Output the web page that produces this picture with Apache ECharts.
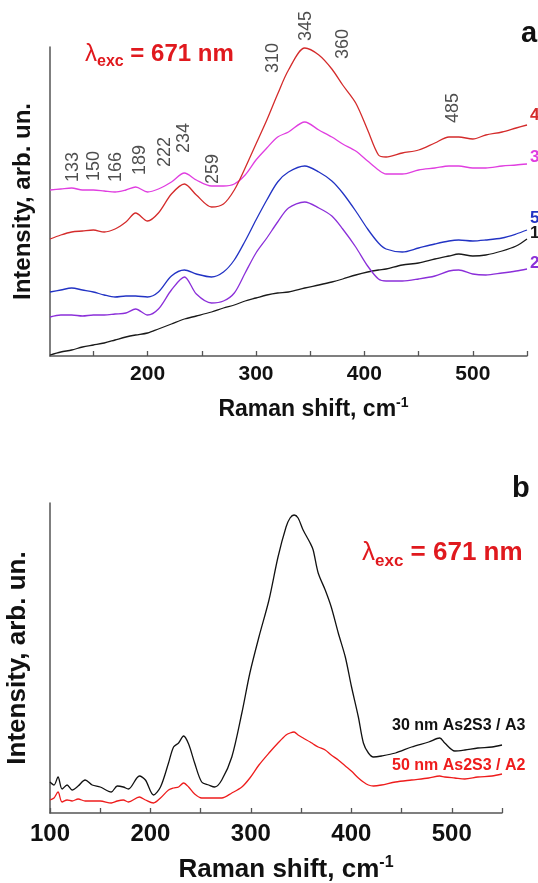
<!DOCTYPE html>
<html lang="en">
<head>
    <meta charset="UTF-8">
    <title>Raman spectra As2S3</title>
    <script src="https://cdn.jsdelivr.net/npm/echarts@6/dist/echarts.min.js"></script>
    <style>
        html, body { margin: 0; padding: 0; background: #fff; }
        #chart { width: 538px; height: 883px; }
    </style>
</head>
<body>
    <div id="chart"></div>
    <script>
    // panel a: Raman shift (cm-1) and five spectra, arbitrary units
    var ramanA = [110, 120, 130, 140, 150, 160, 170, 180, 189, 200, 210, 222, 234, 245, 259, 270, 280, 290, 300, 310,
                  320, 330, 345, 358, 370, 380, 392, 403, 413, 420, 435, 450, 465, 478, 487, 500, 512, 527, 540, 550];
    var spec1 = [1, 4, 6, 9, 11, 13, 16, 19, 21, 23, 27, 32, 37, 40, 44, 48, 51, 55, 58, 61,
                 63, 64, 68, 71, 74, 77, 81, 84, 86, 87, 91, 93, 97, 100, 102, 100, 101, 105, 110, 117];
    var spec2 = [39, 41, 41, 40, 41, 41, 42, 43, 47, 41, 47, 66, 79, 62, 53, 55, 63, 83, 103, 118,
                 134, 148, 154, 148, 140, 127, 109, 90, 77, 75, 75, 77, 80, 85, 86, 82, 81, 83, 85, 87];
    var spec3 = [166, 167, 168, 166, 166, 165, 164, 166, 169, 164, 167, 174, 183, 176, 170, 170, 172, 181, 196, 208,
                 219, 224, 234, 226, 219, 212, 205, 195, 186, 182, 182, 186, 188, 190, 190, 188, 188, 190, 191, 192];
    var spec4 = [117, 121, 124, 125, 126, 124, 127, 134, 143, 135, 143, 162, 172, 161, 149, 152, 166, 188, 212, 236,
                 262, 286, 308, 301, 287, 271, 253, 226, 201, 199, 203, 206, 213, 219, 219, 217, 221, 224, 228, 231];
    var spec5 = [64, 66, 68, 66, 64, 61, 59, 60, 60, 59, 64, 80, 86, 82, 79, 84, 96, 115, 136, 156,
                 174, 184, 190, 184, 175, 163, 145, 127, 113, 107, 104, 108, 112, 115, 116, 115, 116, 118, 122, 126];

    // peak annotations of panel a (label text, and where the text sits)
    var peakNames = ['133', '150', '166', '189', '222', '234', '259', '310', '345', '360', '485'];
    var peakLabelX = [130.8, 151, 170.5, 192.6, 215.7, 233.2, 260, 315.4, 345.8, 380, 481.5];
    var peakLabelY = [189, 190, 189, 196, 204, 218, 187, 298, 330, 312, 248];

    // panel b
    var ramanB = [100, 104, 108, 112, 117, 122, 128, 135, 142, 150, 161, 167, 173, 178, 189, 195, 203, 210, 218, 223,
                  228, 233, 238, 244, 251, 258, 264, 271, 281, 291, 299, 308, 318, 327, 335, 339, 343, 347, 352, 359,
                  362, 367, 374, 380, 387, 394, 400, 407, 412, 417, 422, 430, 444, 460, 477, 488, 493, 503, 513, 526,
                  540, 550];
    var film30 = [31, 28, 36, 24, 28, 23, 27, 33, 28, 26, 21, 27, 26, 24, 37, 33, 18, 26, 50, 66,
                  70, 77, 69, 50, 31, 28, 26, 33, 56, 100, 140, 176, 213, 256, 286, 295, 298, 295, 283, 270,
                  263, 240, 223, 206, 180, 156, 127, 96, 70, 60, 56, 57, 60, 66, 71, 75, 70, 62, 63, 65,
                  66, 68];
    var film50 = [13, 15, 21, 11, 13, 12, 14, 12, 12, 12, 10, 12, 13, 11, 16, 13, 10, 15, 23, 25,
                  26, 30, 26, 19, 15, 15, 15, 15, 20, 26, 35, 48, 60, 70, 78, 80, 81, 78, 75, 71,
                  69, 66, 63, 58, 53, 47, 42, 35, 31, 28, 27, 28, 31, 33, 35, 37, 36, 35, 34, 36,
                  37, 39];

    var ticksA = [150, 200, 250, 300, 350, 400, 450, 500, 550];
    var labelsA = [200, 300, 400, 500];
    var ticksB = [100, 150, 200, 250, 300, 350, 400, 450, 500, 550];
    var labelsB = [100, 200, 300, 400, 500];

    function pairs(xs, ys) {
        return xs.map(function (x, i) { return [x, ys[i]]; });
    }

    var FONT = '"Liberation Sans", Arial, sans-serif';
    var AXIS = '#555';

    var chart = echarts.init(document.getElementById('chart'));

    function spectrum(name, xs, ys, color, gi, tag, dy) {
        var s = {
            name: name,
            type: 'line',
            xAxisIndex: gi,
            yAxisIndex: gi,
            data: pairs(xs, ys),
            showSymbol: false,
            smooth: 0.3,
            lineStyle: { color: color, width: 1.3 },
            z: 3
        };
        if (tag) {
            s.endLabel = {
                show: true,
                formatter: tag,
                color: color,
                fontFamily: FONT,
                fontWeight: 'bold',
                fontSize: 17,
                distance: 3,
                offset: [0, dy]
            };
        }
        return s;
    }

    // shift: extra left padding to move the axis name right of the axis centre
    function xAxisFor(gi, min, ticks, labels, fs, margin, nameSize, gap, shift) {
        return {
            type: 'value',
            gridIndex: gi,
            min: min,
            max: 550,
            name: 'Raman shift, cm{sup|-1}',
            nameLocation: 'middle',
            nameGap: gap,
            nameTextStyle: {
                fontFamily: FONT, fontWeight: 'bold', fontSize: nameSize, color: '#111',
                lineHeight: nameSize + 4,
                padding: [0, 0, 0, shift],
                rich: {
                    sup: { fontFamily: FONT, fontWeight: 'bold', fontSize: Math.round(nameSize * 0.6),
                           color: '#111', verticalAlign: 'top', lineHeight: Math.round(nameSize * 0.6) }
                }
            },
            axisLine: { show: true, onZero: false, lineStyle: { color: AXIS, width: 1.5 } },
            axisTick: { show: true, inside: true, length: 5, customValues: ticks, lineStyle: { color: AXIS, width: 1.3 } },
            axisLabel: { customValues: labels, fontFamily: FONT, fontWeight: 'bold', fontSize: fs, color: '#111', margin: margin },
            splitLine: { show: false }
        };
    }

    function yAxisFor(gi, max, nameSize, gap) {
        return {
            type: 'value',
            gridIndex: gi,
            min: 0,
            max: max,
            name: 'Intensity, arb. un.',
            nameLocation: 'middle',
            nameGap: gap,
            nameTextStyle: { fontFamily: FONT, fontWeight: 'bold', fontSize: nameSize, color: '#111' },
            axisLine: { show: true, onZero: false, lineStyle: { color: AXIS, width: 1.5 } },
            axisTick: { show: false },
            axisLabel: { show: false },
            splitLine: { show: false }
        };
    }

    function lambdaText(left, top, big, small) {
        return {
            type: 'text',
            left: left,
            top: top,
            style: {
                text: '{l|λ}{s|exc}{m| = 671 nm}',
                rich: {
                    l: { fontFamily: FONT, fontSize: big, fill: '#e0191e', lineHeight: big + 8 },
                    s: { fontFamily: FONT, fontWeight: 'bold', fontSize: small, fill: '#e0191e', verticalAlign: 'bottom', lineHeight: small + 1 },
                    m: { fontFamily: FONT, fontWeight: 'bold', fontSize: big, fill: '#e0191e', lineHeight: big + 8 }
                }
            }
        };
    }

    var peakData = peakNames.map(function (n, i) {
        return { name: n, value: [peakLabelX[i], peakLabelY[i]] };
    });

    var option = {
        animation: false,
        backgroundColor: '#fff',
        grid: [
            { left: 50, top: 47, width: 477, height: 309, outerBoundsMode: 'none' },
            { left: 50, top: 503, width: 452, height: 310, outerBoundsMode: 'none' }
        ],
        xAxis: [
            xAxisFor(0, 110, ticksA, labelsA, 21, 8, 23, 40, 50),
            xAxisFor(1, 100, ticksB, labelsB, 24, 9, 26, 42, 20)
        ],
        yAxis: [
            yAxisFor(0, 309, 24, 15),
            yAxisFor(1, 310, 26, 19)
        ],
        graphic: [
            lambdaText(85, 42, 24, 16),
            lambdaText(362, 540, 26, 17),
            { type: 'text', left: 521, top: 19, style: { text: 'a', fontFamily: FONT, fontWeight: 'bold', fontSize: 29, fill: '#111' } },
            { type: 'text', left: 512, top: 474, style: { text: 'b', fontFamily: FONT, fontWeight: 'bold', fontSize: 29, fill: '#111' } },
            { type: 'text', left: 392, top: 718, style: { text: '30 nm As2S3 / A3', fontFamily: FONT, fontWeight: 'bold', fontSize: 16, fill: '#111' } },
            { type: 'text', left: 392, top: 758, style: { text: '50 nm As2S3 / A2', fontFamily: FONT, fontWeight: 'bold', fontSize: 16, fill: '#ee1c1c' } }
        ],
        series: [
            spectrum('1', ramanA, spec1, '#1a1a1a', 0, '1', -6),
            spectrum('2', ramanA, spec2, '#8b2fd9', 0, '2', -6),
            spectrum('3', ramanA, spec3, '#e03ee0', 0, '3', -7),
            spectrum('4', ramanA, spec4, '#d42b2b', 0, '4', -10),
            spectrum('5', ramanA, spec5, '#2233c4', 0, '5', -12),
            {
                type: 'scatter',
                xAxisIndex: 0,
                yAxisIndex: 0,
                clip: false,
                symbolSize: 1,
                itemStyle: { color: 'rgba(0,0,0,0)' },
                silent: true,
                data: peakData,
                label: {
                    show: true,
                    position: 'inside',
                    rotate: 90,
                    formatter: '{b}',
                    fontFamily: FONT,
                    fontSize: 18,
                    color: '#222'
                }
            },
            spectrum('30 nm As2S3 / A3', ramanB, film30, '#111111', 1),
            spectrum('50 nm As2S3 / A2', ramanB, film50, '#ee1c1c', 1)
        ]
    };

    chart.setOption(option);
    </script>
</body>
</html>
